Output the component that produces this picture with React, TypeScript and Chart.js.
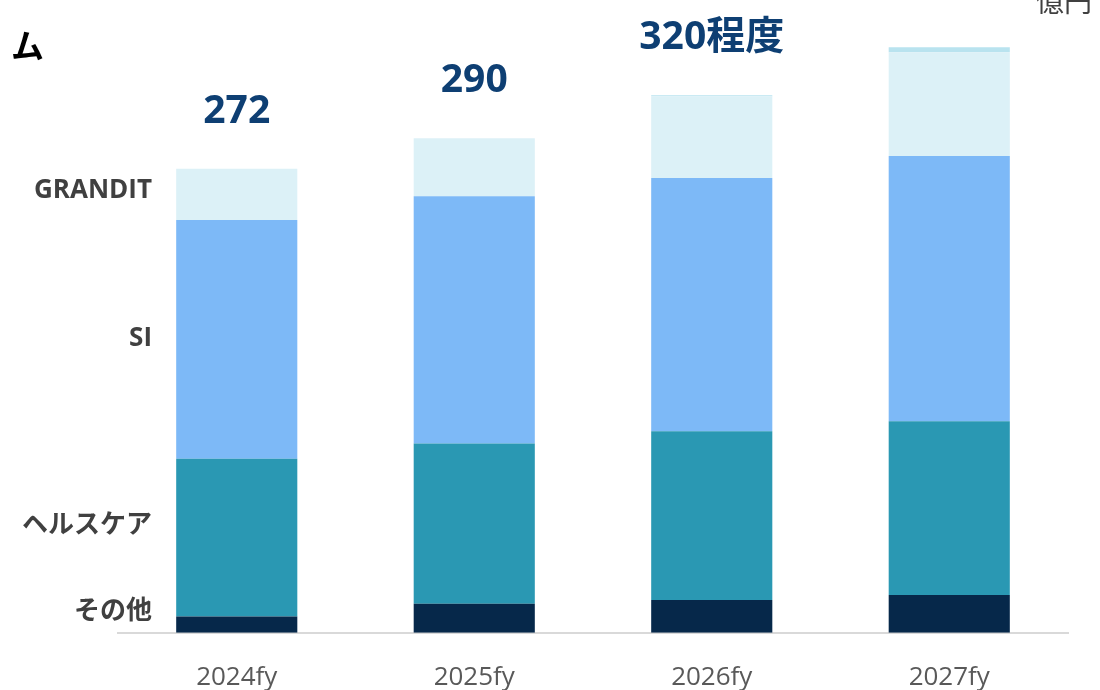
import React, { useEffect, useRef } from "react";
import { Chart, registerables } from "chart.js";

Chart.register(...registerables);

const categories = ["2024fy", "2025fy", "2026fy", "2027fy"];
const otherValues = [9.5, 17, 19.3, 22.2];
const healthcareValues = [92.5, 94, 98.8, 101.8];
const siValues = [140, 145, 148.5, 155.6];
const granditValues = [30, 34, 48, 60.8];
const topValues = [0, 0, 0.6, 2.9];
const totalLabels = ["272", "290", "320程度", ""];
const seriesNames = ["その他", "ヘルスケア", "SI", "GRANDIT", ""];
const sideLabels = ["その他", "ヘルスケア", "SI", "GRANDIT"];

// anchors for left-side series labels (value units on y scale)
const sideLabelAnchors = [12.3, 62.6, 172.5, 259];

const COLORS = ["#06284A", "#2A98B3", "#7DB9F7", "#DCF1F7", "#B9E3EF"];

const overlayPlugin = {
  id: "overlay",
  afterDatasetsDraw(chart: any) {
    const { ctx, scales } = chart;
    const x = scales.x;
    const y = scales.y;
    ctx.save();
    // totals
    ctx.fillStyle = "#0E3F73";
    ctx.font = "bold 39px 'Open Sans', 'Noto Sans CJK JP', sans-serif";
    ctx.textAlign = "center";
    ctx.textBaseline = "middle";
    categories.forEach((_, i) => {
      const sum =
        otherValues[i] + healthcareValues[i] + siValues[i] + granditValues[i] + topValues[i];
      const px = x.getPixelForValue(i);
      const py = y.getPixelForValue(sum) - 57;
      if (totalLabels[i]) ctx.fillText(totalLabels[i], px, py);
    });
    // side labels
    ctx.fillStyle = "#404040";
    ctx.font = "bold 26px 'Open Sans', 'Noto Sans CJK JP', sans-serif";
    ctx.textAlign = "right";
    sideLabels.forEach((t, i) => {
      ctx.fillText(t, 152, y.getPixelForValue(sideLabelAnchors[i]));
    });
    ctx.restore();
  },
};

export default function App() {
  const ref = useRef<HTMLCanvasElement>(null);
  useEffect(() => {
    if (!ref.current) return;
    const series = [otherValues, healthcareValues, siValues, granditValues, topValues];
    const chart = new Chart(ref.current, {
      type: "bar",
      data: {
        labels: categories,
        datasets: series.map((d, i) => ({
          label: seriesNames[i],
          data: d,
          backgroundColor: COLORS[i],
          borderWidth: 0,
          barPercentage: 0.51,
          categoryPercentage: 1,
        })),
      },
      options: {
        responsive: false,
        animation: false,
        layout: { padding: { left: 118, right: 32, top: 0, bottom: -32 } },
        plugins: { legend: { display: false }, tooltip: { enabled: false } },
        scales: {
          x: {
            stacked: true,
            grid: { display: false, drawTicks: false },
            border: { display: true, color: "#D9D9D9", width: 2 },
            ticks: {
              color: "#595959",
              font: { size: 26, family: "'Open Sans', sans-serif" },
              padding: 29,
            },
          },
          y: {
            stacked: true,
            display: false,
            min: 0,
            max: 371,
          },
        },
      },
      plugins: [overlayPlugin],
    });
    return () => chart.destroy();
  }, []);
  return (
    <div style={{ position: "fixed", left: 0, top: 0, width: 1100, height: 690, background: "#fff", overflow: "hidden" }}>
      <canvas ref={ref} width={1100} height={690} style={{ position: "absolute", left: 0, top: 0 }} />
      <div
        style={{
          position: "absolute",
          left: 11,
          top: 28,
          fontFamily: "'Noto Sans CJK JP', sans-serif",
          fontWeight: 700,
          fontSize: 33,
          lineHeight: 1,
          color: "#000",
          whiteSpace: "nowrap",
        }}
      >
        ム
      </div>
      <div
        style={{
          position: "absolute",
          left: 1036,
          top: -14,
          fontFamily: "'Noto Sans CJK JP', sans-serif",
          fontSize: 28,
          lineHeight: 1,
          color: "#404040",
          whiteSpace: "nowrap",
        }}
      >
        億円
      </div>
    </div>
  );
}
